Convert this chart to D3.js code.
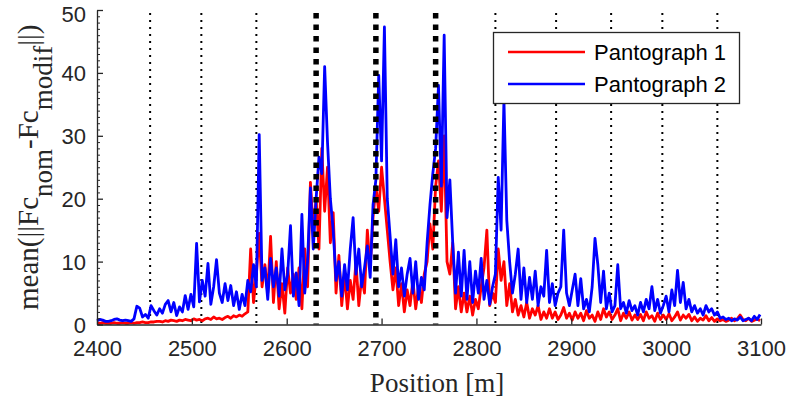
<!DOCTYPE html>
<html>
<head>
<meta charset="utf-8">
<script src="https://cdn.jsdelivr.net/npm/d3@7"></script>
<style>
  html, body { margin: 0; padding: 0; background: #fff; }
  svg { display: block; }
</style>
</head>
<body>
<script>
// ---- data ----
const positionStart = 2400;   // m
const positionStep = 3;       // m between samples
const pantograph1 = [
  0.2,0.2,0.3,0.2,0.2,0.2,0.3,0.2,0.2,0.3,
  0.2,0.2,0.3,0.2,0.3,0.3,0.4,0.3,0.3,0.4,
  0.4,0.5,0.5,0.4,0.6,0.5,0.7,0.6,0.5,0.7,
  0.6,0.8,0.7,0.6,0.9,0.7,0.8,0.6,0.9,1.0,
  0.8,1.2,0.9,1.0,0.8,1.1,1.3,1.0,1.4,1.2,
  1.5,1.3,1.7,2.0,12.0,3.5,8.0,14.5,6.0,9.5,
  5.0,14.0,3.5,10.0,2.5,6.5,1.8,9.0,5.0,8.0,
  4.0,9.0,2.5,12.0,6.0,22.6,15.0,20.0,12.0,28.0,
  18.0,25.0,13.0,17.8,5.0,11.0,3.0,8.0,2.5,7.0,
  4.0,10.0,3.0,7.5,5.0,15.0,9.0,17.0,22.0,18.0,
  25.0,20.0,15.0,10.0,5.5,9.0,3.0,6.5,2.0,5.5,
  3.0,7.0,2.5,6.0,3.5,8.0,10.0,16.0,12.0,22.0,
  26.0,18.0,30.0,10.0,8.0,13.0,2.5,6.0,2.0,5.0,
  2.0,4.5,1.5,4.0,2.5,6.0,9.0,15.0,3.0,5.0,
  3.5,12.0,7.0,10.0,3.0,6.5,2.0,4.0,1.5,3.0,
  1.2,3.5,1.0,2.5,1.5,3.0,0.8,2.0,1.0,2.5,
  1.0,2.0,0.8,1.5,2.7,1.0,1.8,0.7,2.0,1.0,
  1.8,0.6,2.2,1.0,1.5,0.5,2.0,0.8,2.5,1.2,
  2.0,0.8,1.5,2.5,0.6,1.8,1.0,2.0,0.7,1.5,
  0.8,1.6,0.6,2.0,1.0,1.4,0.5,1.8,0.8,1.5,
  0.8,1.7,0.6,1.2,2.0,0.7,1.5,1.0,1.6,0.6,
  1.2,0.5,1.0,0.7,1.4,0.6,1.1,0.5,0.9,0.6,
  0.8,0.5,0.7,1.0,0.6,0.9,1.5,0.8,0.6,1.0,0.5,0.7,0.9,0.6
];
const pantograph2 = [
  0.6,0.8,0.7,0.5,0.5,0.6,0.8,0.9,0.7,0.6,
  0.7,0.6,0.5,0.9,2.9,2.6,1.2,1.6,1.0,3.0,
  2.2,1.5,2.5,1.8,3.2,3.8,2.0,3.5,1.4,2.8,
  2.0,4.6,2.4,4.8,2.8,12.9,3.6,7.0,4.5,9.7,
  3.2,6.0,10.3,5.0,3.5,6.5,3.8,6.2,3.0,5.2,
  2.4,4.8,3.0,7.0,5.2,9.5,6.0,30.2,7.0,9.0,
  4.0,10.5,6.0,9.0,4.5,12.0,5.5,8.0,15.7,4.5,
  8.2,3.0,17.5,5.0,10.0,21.7,12.0,20.0,26.6,24.0,
  41.0,29.0,20.0,15.0,7.0,10.0,4.5,9.5,5.5,12.0,
  17.0,8.0,12.0,6.0,9.0,12.5,7.5,19.0,23.0,39.6,
  26.0,47.3,20.0,14.0,8.0,13.5,6.0,9.0,4.5,8.0,
  10.5,5.0,10.0,4.0,7.5,5.5,13.0,19.0,24.0,28.0,
  38.0,22.0,46.0,17.0,23.0,13.0,5.0,11.5,4.5,11.8,
  4.0,10.0,3.5,8.5,5.0,10.5,4.0,7.0,3.2,6.0,
  8.0,23.4,15.0,35.7,16.6,10.0,5.0,8.0,12.0,4.0,
  9.0,3.5,7.5,4.0,8.5,3.0,6.0,4.5,11.8,3.5,
  6.5,3.0,5.0,6.0,15.0,5.0,3.0,5.5,8.0,3.0,
  7.3,2.5,4.0,2.0,6.0,13.7,9.5,3.5,8.5,2.5,
  5.0,2.0,3.0,9.5,2.5,3.5,1.8,3.8,2.2,3.0,
  1.5,3.5,2.0,4.0,2.5,6.0,2.2,4.0,1.8,3.0,
  4.5,2.0,5.5,3.0,8.6,3.5,6.7,2.5,4.0,2.0,
  3.0,1.8,2.5,1.5,3.0,2.0,2.5,1.5,2.0,1.0,
  1.2,0.8,1.0,0.6,0.9,0.7,1.2,0.6,0.8,1.0,0.6,1.3,0.8,1.6
];
const thinMarkers = [2456, 2510, 2568, 2820, 2884, 2942, 2996, 3054];
const thickMarkers = [2631, 2694, 2757];
const xTicks = [2400, 2500, 2600, 2700, 2800, 2900, 3000, 3100];
const yTicks = [0, 10, 20, 30, 40, 50];
const seriesNames = ["Pantograph 1", "Pantograph 2"];
const seriesColors = ["#ff0000", "#0000ff"];

// ---- layout ----
const W = 790, H = 407;
const mLeft = 97, mRight = 761, mTop = 10, mBottom = 324.5;

const svg = d3.select("body").append("svg").attr("width", W).attr("height", H);

const x = d3.scaleLinear().domain([2400, 3100]).range([mLeft, mRight]);
const y = d3.scaleLinear().domain([0, 50]).range([mBottom, mTop]);

const positions = pantograph1.map((_, i) => positionStart + i * positionStep);

// marker lines
svg.append("g").selectAll("line").data(thinMarkers).join("line")
  .attr("x1", d => x(d)).attr("x2", d => x(d))
  .attr("y1", y(50) + 3).attr("y2", y(0))
  .attr("stroke", "#000").attr("stroke-width", 2)
  .attr("stroke-dasharray", "2,5");

const line = d3.line().x((d, i) => x(positions[i])).y(d => y(d));
[pantograph1, pantograph2].forEach((s, k) => {
  svg.append("path").datum(s)
    .attr("d", line)
    .attr("fill", "none")
    .attr("stroke", seriesColors[k])
    .attr("stroke-width", 2.8)
    .attr("stroke-linejoin", "round");
});

svg.append("g").selectAll("line").data(thickMarkers).join("line")
  .attr("x1", d => x(d)).attr("x2", d => x(d))
  .attr("y1", y(50) + 3).attr("y2", y(0))
  .attr("stroke", "#000").attr("stroke-width", 5.5)
  .attr("stroke-dasharray", "5.5,6");

// axes
const font = "'Liberation Sans', Arial, Helvetica, sans-serif";
const xAxis = svg.append("g").attr("transform", `translate(0,${mBottom})`)
  .call(d3.axisBottom(x).tickValues(xTicks).tickSize(-6).tickSizeOuter(0).tickPadding(16).tickFormat(d3.format("d")));
const yAxis = svg.append("g").attr("transform", `translate(${mLeft},0)`)
  .call(d3.axisLeft(y).tickValues(yTicks).tickSize(-6).tickSizeOuter(0).tickPadding(11).tickFormat(d3.format("d")));
// minor y ticks
svg.append("g").attr("transform", `translate(${mLeft},0)`)
  .call(d3.axisLeft(y).tickValues(d3.range(1, 50, 1).filter(v => v % 10 !== 0)).tickSize(-3).tickSizeOuter(0).tickFormat(""))
  .call(g => g.select(".domain").remove());

[xAxis, yAxis].forEach(g => {
  g.select(".domain").attr("stroke", "#262626").attr("stroke-width", 1.3);
  g.selectAll(".tick line").attr("stroke", "#262626").attr("stroke-width", 1.3);
  g.selectAll(".tick text").attr("fill", "#262626").style("font-family", font).style("font-size", "22px");
});
yAxis.selectAll(".tick text").attr("dy", d => d === 50 ? "0.5em" : "0.36em");
svg.selectAll(".tick line").attr("stroke", "#262626");

// axis labels
svg.append("text")
  .attr("x", (mLeft + mRight) / 2 + 8).attr("y", 392)
  .attr("text-anchor", "middle")
  .style("font-family", "'Liberation Serif', 'Times New Roman', serif")
  .style("font-size", "27px").attr("fill", "#262626")
  .text("Position [m]");

const yl = svg.append("text")
  .attr("transform", `translate(38,${(mTop + mBottom) / 2}) rotate(-90)`)
  .attr("text-anchor", "middle")
  .style("font-family", "'Liberation Serif', 'Times New Roman', serif")
  .style("font-size", "29px").attr("fill", "#262626");
yl.append("tspan").text("mean(||Fc");
yl.append("tspan").attr("dy", 14).style("font-size", "27px").text("nom");
yl.append("tspan").attr("dy", -14).text("-Fc");
yl.append("tspan").attr("dy", 14).style("font-size", "27px").text("modif");
yl.append("tspan").attr("dy", -14).text("||)");

// legend
const lg = svg.append("g");
lg.append("rect").attr("x", 493.5).attr("y", 32.5).attr("width", 246).attr("height", 71)
  .attr("fill", "#fff").attr("stroke", "#262626").attr("stroke-width", 1.3);
seriesNames.forEach((n, k) => {
  const ly = 52 + k * 32;
  lg.append("line").attr("x1", 508).attr("x2", 585).attr("y1", ly).attr("y2", ly)
    .attr("stroke", seriesColors[k]).attr("stroke-width", 2.6);
  lg.append("text").attr("x", 594).attr("y", ly + 8)
    .style("font-family", font).style("font-size", "22px").attr("fill", "#000")
    .text(n);
});
</script>
</body>
</html>
